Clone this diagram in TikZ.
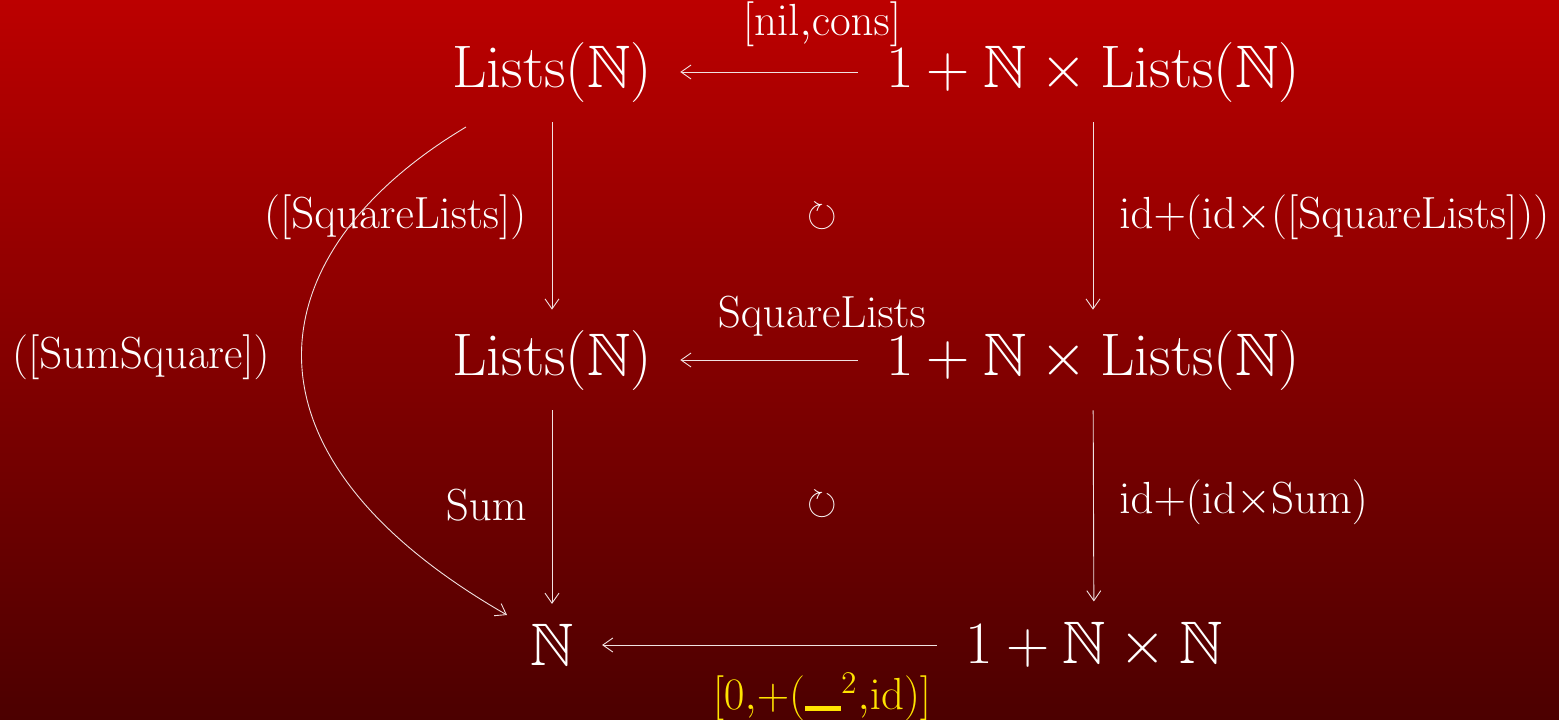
\RequirePackage{fix-cm}
\documentclass[tikz,border=0pt]{standalone}
\usepackage{amssymb}
\usetikzlibrary{arrows.meta}
\definecolor{bgtop}{RGB}{188,0,0}
\definecolor{bgbot}{RGB}{76,0,0}
\definecolor{lineclr}{RGB}{240,225,225}
\definecolor{yel}{RGB}{255,228,0}
\tikzset{
  obj/.style={text=white,inner xsep=14pt,inner ysep=10pt,font=\fontsize{30}{36}\selectfont},
  lbl/.style={text=white,inner sep=0pt,font=\fontsize{22.5}{27}\selectfont},
  arr/.style={draw=lineclr,line width=0.45pt,-{Straight Barb[length=5pt,width=7pt]}},
  comm/.style={text=white,inner sep=0pt,font=\fontsize{19}{22}\selectfont}
}
\begin{document}
\begin{tikzpicture}[x=0.5pt,y=-0.5pt]
\shade[top color=bgtop,bottom color=bgbot] (0,0) rectangle (1559,719);
\useasboundingbox (0,0) rectangle (1559,719);
\node[obj] (A) at (552,72) {$\mathrm{Lists}(\mathbb{N})$};
\node[obj] (B) at (1093,72) {$1+\mathbb{N}\times\mathrm{Lists}(\mathbb{N})$};
\node[obj] (C) at (552,360) {$\mathrm{Lists}(\mathbb{N})$};
\node[obj] (D) at (1093,360) {$1+\mathbb{N}\times\mathrm{Lists}(\mathbb{N})$};
\node[obj] (E) at (552,645) {$\mathbb{N}$};
\node[obj] (F) at (1094,645) {$1+\mathbb{N}\times\mathbb{N}$};
\draw[arr] (B) -- (A);
\draw[arr] (D) -- (C);
\draw[arr] (F) -- (E);
\node[lbl] (l1) at (822,24) {$[\mathrm{nil}{,}\mathrm{cons}]$};
\node[lbl] (l2) at (822,316) {$\mathrm{SquareLists}$};
\node[lbl,text=yel] (l3) at (822,697) {$[0{,}{+}(\rule[-0.5pt]{0.8em}{2.5pt}^{2}{,}\mathrm{id})]$};
\draw[arr] (A) -- (C);
\draw[arr] (B) -- (D);
\draw[arr] (C) -- (E);
\draw[arr] (D) -- (F);
\node[lbl,anchor=east] (l4) at (527,217) {$([\mathrm{SquareLists}])$};
\node[lbl,anchor=west] (l5) at (1119,217) {$\mathrm{id}{+}(\mathrm{id}{\times}([\mathrm{SquareLists}]))$};
\node[lbl,anchor=east] (l6) at (527,505) {$\mathrm{Sum}$};
\node[lbl,anchor=west] (l7) at (1119,502) {$\mathrm{id}{+}(\mathrm{id}{\times}\mathrm{Sum})$};
\node[comm] (c1) at (822,217) {$\circlearrowright$};
\node[comm] (c2) at (822,505) {$\circlearrowright$};
\coordinate (cs) at (466,127);
\coordinate (ce) at (507,615);
\draw[arr] (cs) .. controls (260,250) and (220,450) .. (ce);
\node[lbl] (l8) at (141,357) {$([\mathrm{SumSquare}])$};
\end{tikzpicture}
\end{document}
